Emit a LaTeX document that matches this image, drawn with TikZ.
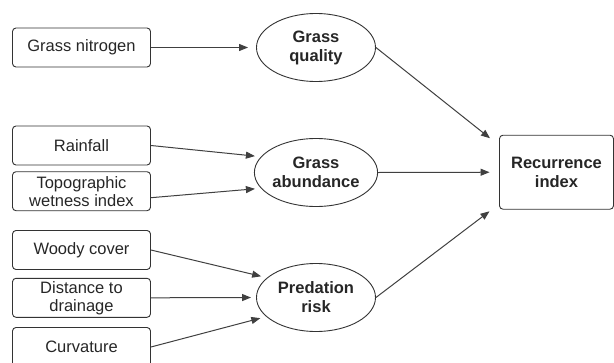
\documentclass[tikz,border=0pt]{standalone}
\usepackage{fontspec}
\setmainfont{Liberation Sans}
\usetikzlibrary{shapes.geometric,arrows.meta}

\tikzset{
    factor/.style={draw=black!80, line width=0.9pt, rectangle, rounded corners=3.5pt, minimum width=138pt, minimum height=39pt, inner sep=0pt, align=center, text=black!85, font=\fontsize{16.5}{18}\selectfont},
    latent/.style={draw=black!80, line width=0.9pt, ellipse, minimum width=119pt, minimum height=68pt, inner sep=0pt, align=center, text=black!85, font=\fontsize{16.5}{19}\selectfont\bfseries},
    link/.style={draw=black!75, line width=1pt, -{Triangle[length=9pt,width=7pt]}, shorten >=6pt}
}

\begin{document}
\begin{tikzpicture}[x=1pt, y=-1pt]
    \useasboundingbox (0,0) rectangle (614,362);
    \draw

    %% inputs
    (81.5,47.5)node[factor](nitro){Grass nitrogen}
    (81.5,145.5)node[factor](rain){Rainfall}
    (81.5,191.2)node[factor](topo){Topographic\\wetness index}
    (81.5,250)node[factor](woody){Woody cover}
    (81.5,297.8)node[factor](dist){Distance to\\drainage}
    (81.5,347)node[factor](curv){Curvature}

    %% latent variables
    (316,47.5)node[latent](quality){Grass\\quality}
    (316,172.5)node[latent](abund){Grass\\abundance}
    (316,297.5)node[latent](pred){Predation\\risk}

    %% outcome
    (556.5,172.2)node[factor, minimum width=114pt, minimum height=74pt, font=\fontsize{16.5}{19}\selectfont\bfseries](recur){Recurrence\\index}
    ;

    %% links
    \draw[link, shorten >=8pt] (nitro.east) -- (quality.west);
    \draw[link] (rain.east) -- (abund.164);
    \draw[link] ([yshift=-6.5pt]topo.east) -- (abund.196);
    \draw[link] (woody.east) -- (pred.158);
    \draw[link, shorten >=5pt] (dist.east) -- (pred.west);
    \draw[link] (curv.east) -- (pred.201);
    \draw[link, shorten >=11.5pt] (quality.east) -- (recur.155);
    \draw[link, shorten >=9.5pt] (abund.east) -- (recur.west);
    \draw[link, shorten >=12pt] (pred.east) -- (recur.209.5);
\end{tikzpicture}
\end{document}
